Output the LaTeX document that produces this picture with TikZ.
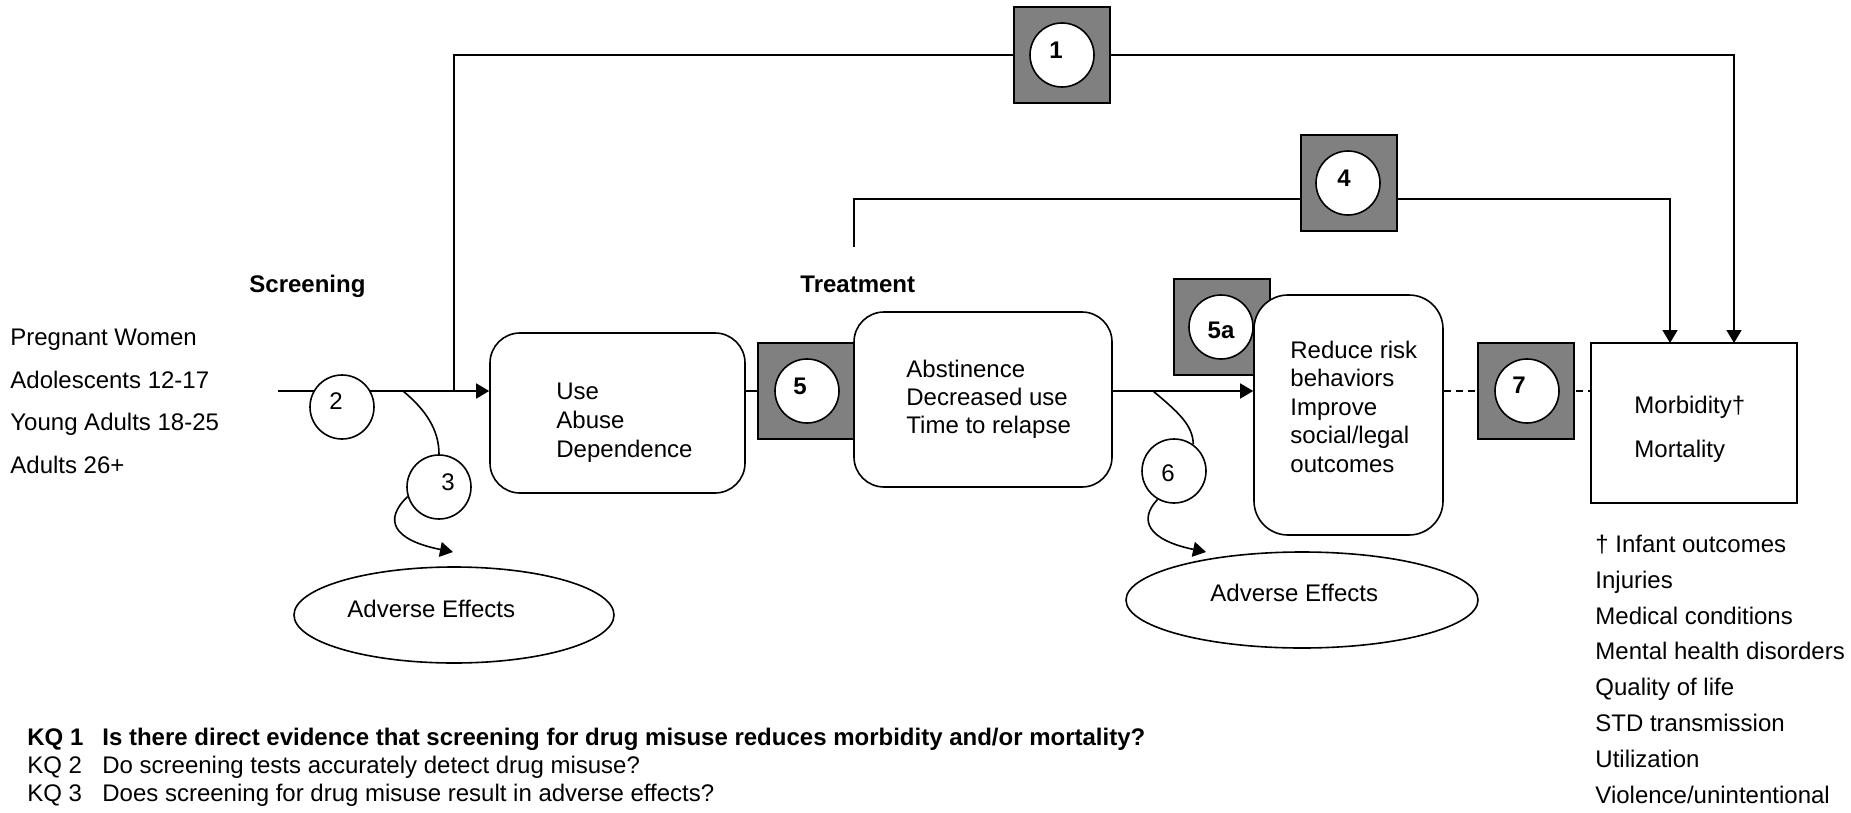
\documentclass[tikz,border=0pt]{standalone}
\usepackage{fontspec}
\setmainfont{Liberation Sans}
\usetikzlibrary{arrows.meta,shapes.geometric,backgrounds}
\definecolor{kqgrey}{HTML}{808080}
\newcommand\kqnum[3]{\makebox[0pt]{\hspace{#1}\raisebox{#2}[\height][\depth]{#3}\hspace{-#1}}}
\begin{document}
\begin{tikzpicture}[x=0.5pt,y=-0.5pt,
  every node/.style={font=\fontsize{12}{14}\selectfont, inner sep=0pt},
  ln/.style={line width=0.8pt},
  arr/.style={ln,-{Triangle[length=6.5pt,width=7.5pt]}},
  dsh/.style={ln,dash pattern=on 3.5pt off 2.5pt},
  rbox/.style={draw,line width=0.8pt,fill=white,rounded corners=15pt},
  sbox/.style={draw,line width=0.8pt,fill=white},
  gsq/.style={draw,line width=0.8pt,fill=kqgrey,minimum width=48pt,minimum height=48pt},
  kqc/.style={draw,line width=0.8pt,fill=white,circle,minimum size=32pt},
  kqb/.style={kqc,font=\fontsize{12}{14}\selectfont\bfseries},
  txt/.style={anchor=base west},
  mtxt/.style={anchor=base west,align=left},
  aell/.style={draw,line width=0.8pt,fill=white,ellipse},
]
\useasboundingbox (0,0) rectangle (1851,813);

% left labels
\node[txt] (pw) at (10,345) {Pregnant Women};
\node[txt] (ad) at (10,388) {Adolescents 12-17};
\node[txt] (ya) at (10,430) {Young Adults 18-25};
\node[txt] (aa) at (10,473) {Adults 26+};
\node[txt,font=\fontsize{12}{14}\selectfont\bfseries] (scr) at (249,292) {Screening};
\node[txt,font=\fontsize{12}{14}\selectfont\bfseries] (trt) at (800,292) {Treatment};

% grey squares
\node[gsq] (sq1) at (1062,55) {};
\node[gsq] (sq4) at (1349,183) {};
\node[gsq] (sq5) at (806,391) {};
\node[gsq] (sq5a) at (1222,327) {};
\node[gsq] (sq7) at (1526,391) {};

% boxes
\node[rbox,minimum width=127.5pt,minimum height=80pt] (use) at (617.5,413) {};
\node[rbox,minimum width=129pt,minimum height=87.5pt] (abs) at (983,399.5) {};
\node[rbox,rounded corners=17pt,minimum width=94.5pt,minimum height=120pt] (red) at (1348.5,415) {};
\node[sbox,minimum width=103pt,minimum height=80pt] (mor) at (1694,423) {};

% ellipses
\node[aell,minimum width=160pt,minimum height=48pt] (ae1) at (454,615) {};
\node[aell,minimum width=176pt,minimum height=48pt] (ae2) at (1302,600) {};

% circles
\node[kqb] (c1) at (1062,55) {\kqnum{-3pt}{2.5pt}{1}};
\node[kqb] (c4) at (1348,183) {\kqnum{-2pt}{2.5pt}{4}};
\node[kqb] (c5) at (807,391) {\kqnum{-3.5pt}{2.5pt}{5}};
\node[kqb] (c5a) at (1221,327) {\kqnum{0pt}{-1.5pt}{5a}};
\node[kqb] (c7) at (1527,391) {\kqnum{-4pt}{3pt}{7}};
\node[kqc] (c2) at (342,407) {\kqnum{-3pt}{3pt}{2}};
\node[kqc] (c3) at (439,487) {\kqnum{4.5pt}{2.5pt}{3}};
\node[kqc] (c6) at (1174,471) {\kqnum{-3pt}{-1pt}{6}};

% box texts (anchor = baseline of last line)
\node[mtxt,font=\fontsize{12}{14.5}\selectfont] (uset) at (556,457) {Use\\Abuse\\Dependence};
\node[mtxt] (abst) at (906,433) {Abstinence\\Decreased use\\Time to relapse};
\node[mtxt,font=\fontsize{12}{14.25}\selectfont] (redt) at (1290,472) {Reduce risk\\behaviors\\Improve\\social/legal\\outcomes};
\node[mtxt,font=\fontsize{12}{22}\selectfont] (mort) at (1634,457) {Morbidity†\\Mortality};
\node[txt] (ae1t) at (347,617) {Adverse Effects};
\node[txt] (ae2t) at (1210,601) {Adverse Effects};

% outcome list
\node[mtxt,font=\fontsize{12}{17.9}\selectfont] (list) at (1595,803) {† Infant outcomes\\Injuries\\Medical conditions\\Mental health disorders\\Quality of life\\STD transmission\\Utilization\\Violence/unintentional};

% key questions
\node[txt,font=\fontsize{12}{14}\selectfont\bfseries] (kq1) at (27,745) {\makebox[37.5pt][l]{KQ 1}Is there direct evidence that screening for drug misuse reduces morbidity and/or mortality?};
\node[txt] (kq2) at (27,773) {\makebox[37.5pt][l]{KQ 2}Do screening tests accurately detect drug misuse?};
\node[txt] (kq3) at (27,801) {\makebox[37.5pt][l]{KQ 3}Does screening for drug misuse result in adverse effects?};

% coordinates
\coordinate (axis) at (0,391);
\coordinate (st) at (278,391);
\coordinate (j1) at (454,391);
\coordinate (m1) at (1734,343);
\coordinate (m4) at (1670,343);
\coordinate (t4) at (854,247);
\coordinate (k4) at (854,199);
\coordinate (b3) at (403,391);
\coordinate (a3) at (453,552);
\coordinate (b6) at (1153,391);
\coordinate (a6) at (1206,552);

\begin{pgfonlayer}{background}
\draw[arr] (st) -- (st -| use.west);
\draw[arr] (j1) |- (c1) -| (m1);
\draw[arr] (t4) -- (k4) -| (m4);
\draw[ln] (use.east |- axis) -- (abs.west |- axis);
\draw[arr] (abs.east |- axis) -- (red.west |- axis);
\draw[dsh] (red.east |- axis) -- (mor.west |- axis);
\end{pgfonlayer}

\draw[ln] (b3) .. controls (426,410) and (439,430) .. (c3.north);
\draw[arr] (c3.197) .. controls (383,520) and (393,540) .. (a3);
\draw[ln] (b6) .. controls (1178,412) and (1193,425) .. (c6.54);
\draw[arr] (c6.240) .. controls (1138,520) and (1148,540) .. (a6);
\end{tikzpicture}
\end{document}
